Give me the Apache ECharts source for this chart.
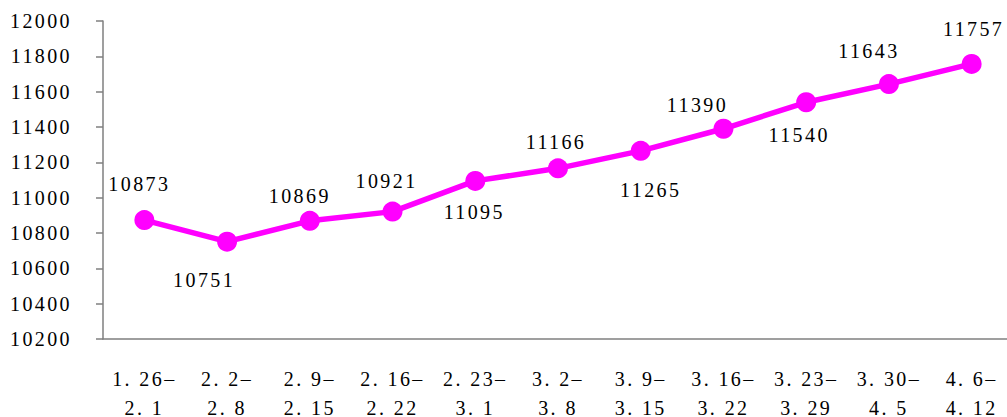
<!DOCTYPE html>
<html>
<head>
<meta charset="utf-8">
<script src="https://cdn.jsdelivr.net/npm/echarts@6/dist/echarts.min.js"></script>
<style>
  html, body { margin: 0; padding: 0; background: #fff; }
  #chart { width: 1007px; height: 417px; }
  /* the digits are set with a little tracking */
  #chart svg text { letter-spacing: 2.4px; }
</style>
</head>
<body>
<div id="chart"></div>
<script>
// Weekly periods (start date / end date)
const periods = [
  '1. 26–\n2. 1', '2. 2–\n2. 8', '2. 9–\n2. 15', '2. 16–\n2. 22', '2. 23–\n3. 1',
  '3. 2–\n3. 8', '3. 9–\n3. 15', '3. 16–\n3. 22', '3. 23–\n3. 29', '3. 30–\n4. 5', '4. 6–\n4. 12'
];
const values = [10873, 10751, 10869, 10921, 11095, 11166, 11265, 11390, 11540, 11643, 11757];

// Hand-placed value labels: shift of each label's centre from its point, in px
const labelShift = [
  [-5, -36], [-23, 38], [-10, -25], [-6, -31], [-1, 31], [-2, -26],
  [10, 39], [-26, -24], [-7, 33], [-20, -33], [2, -35]
];

const yMin = 10200, yMax = 12000, yStep = 200;
const serif = '"Liberation Serif", "Times New Roman", serif';
const axisGray = '#7f7f7f';

const chart = echarts.init(document.getElementById('chart'), null, { renderer: 'svg' });

chart.setOption({
  animation: false,
  backgroundColor: '#ffffff',
  grid: {
    left: 103, top: 21, width: 910, height: 318,
    containLabel: false, outerBoundsMode: 'none'
  },
  xAxis: {
    type: 'category',
    data: periods,
    boundaryGap: true,
    axisLine: { lineStyle: { color: axisGray, width: 1.5 } },
    axisTick: { inside: true, length: 7, lineStyle: { color: axisGray, width: 1.5 } },
    axisLabel: {
      color: '#000', fontFamily: serif, fontSize: 20, lineHeight: 29,
      margin: 25, interval: 0
    },
    splitLine: { show: false }
  },
  yAxis: {
    type: 'value',
    min: yMin, max: yMax, interval: yStep,
    axisLine: { show: true, lineStyle: { color: axisGray, width: 1.5 } },
    axisTick: { show: true, length: 7, lineStyle: { color: axisGray, width: 1.5 } },
    axisLabel: {
      color: '#000', fontFamily: serif, fontSize: 20, margin: 31,
      formatter: v => String(v)
    },
    splitLine: { show: false }
  },
  series: [{
    type: 'line',
    data: values.map((v, i) => ({
      value: v,
      label: { offset: labelShift[i] }
    })),
    symbol: 'circle',
    symbolSize: 20,
    lineStyle: { color: '#ff00ff', width: 5.5 },
    itemStyle: { color: '#ff00ff' },
    label: {
      show: true, position: 'inside',
      color: '#000', fontFamily: serif, fontSize: 20
    }
  }]
});
</script>
</body>
</html>
